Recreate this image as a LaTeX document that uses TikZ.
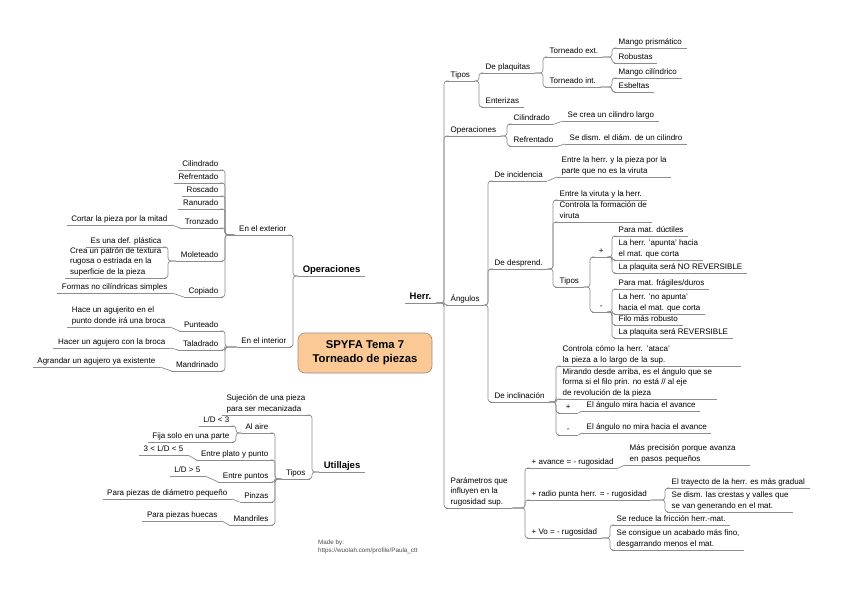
\documentclass[tikz,border=0pt]{standalone}
\usepackage{fontspec}
\setmainfont{Liberation Sans}
\usetikzlibrary{calc,backgrounds}
\definecolor{peach}{HTML}{FBC995}
\definecolor{peachline}{HTML}{9A8C80}
\definecolor{linec}{HTML}{8C8C8C}
\newcommand\tf{\fontsize{8}{10.8}\selectfont}
\newcommand\rconn[2]{\draw[conn] (#1.south east) -- ($(#1.south east -| #2.south west)+(-2pt,0)$) |- (#2.south west);}
\newcommand\lconn[2]{\draw[conn] (#1.south west) -- ($(#1.south west -| #2.south east)+(2pt,0)$) |- (#2.south east);}
\newcommand\rdir[2]{\draw[conn] (#1.south east) -- (#2.south west);}
\newcommand\ldir[2]{\draw[conn] (#1.south west) -- (#2.south east);}
\begin{document}
\begin{tikzpicture}[x=1pt,y=1pt,
  conn/.style={draw=linec, line width=0.7pt, rounded corners=3pt},
  uline/.style={draw=linec, line width=0.7pt},
  topic/.style={font=\tf, inner xsep=4.5pt, inner ysep=1.4pt, align=left,
    execute at end node={\vphantom{g}},
    append after command={(\tikzlastnode.south west) edge[uline] (\tikzlastnode.south east)}},
  R/.style={topic, anchor=south west},
  L/.style={topic, anchor=south east},
  main/.style={topic, font=\fontsize{9.5}{11}\selectfont\bfseries},
  central/.style={draw=peachline, fill=peach, rounded corners=7pt, minimum width=134pt,
    minimum height=40pt, font=\fontsize{11.3}{14}\selectfont\bfseries, align=center, line width=0.6pt}]
\useasboundingbox (0,0) rectangle (848,-599);
\fill[white] (0,0) rectangle (848,-599);

% central and main topics
\node[central] (c) at (365,-353) {SPYFA Tema 7\\Torneado de piezas};
\node[main, anchor=south east] (ops) at (365,-276) {Operaciones};
\node[main, anchor=south west] (herr) at (405,-303) {Herr.};
\node[main, anchor=south east] (uti) at (365,-472) {Utillajes};

\begin{pgfonlayer}{background}
\fill[black] ($(c.north)+(-8,-6)$) -- ($(c.north)+(-1,-6)$) -- (ops.south east) -- cycle;
\fill[black] ($(c.north)+(13,-6)$) -- ($(c.north)+(25,-6)$) -- (herr.south west) -- cycle;
\fill[black] ($(c.south)+(-9,6)$) -- ($(c.south)+(-2,6)$) -- (uti.south east) -- cycle;
\end{pgfonlayer}

% ---------- right side (Herr.) ----------
\node[R] (tipos) at (446,-81) {Tipos};
\node[R] (opsr) at (446,-136) {Operaciones};
\node[R] (ang) at (446,-305) {Ángulos};
\node[R] (par) at (446,-508) {Parámetros que\\influyen en la\\rugosidad sup.};

\node[R] (plaq) at (481,-73) {De plaquitas};
\node[R] (ente) at (481,-107) {Enterizas};
\node[R] (text) at (545,-57) {Torneado ext.};
\node[R] (tint) at (545,-87) {Torneado int.};
\node[R] (mpris) at (614,-48) {Mango prismático};
\node[R] (robu) at (614,-63) {Robustas};
\node[R] (mcil) at (614,-78) {Mango cilíndrico};
\node[R] (esbe) at (614,-92) {Esbeltas};

\node[R] (cilr) at (509,-124) {Cilindrado};
\node[R] (refr) at (509,-146) {Refrentado};
\node[R] (crea) at (563,-121) {Se crea un cilindro largo};
\node[R] (dism) at (565,-144) {Se dism. el diám. de un cilindro};

\node[R] (inci) at (490,-181) {De incidencia};
\node[R] (incid) at (557,-177) {Entre la herr. y la pieza por la\\parte que no es la viruta};
\node[R] (desp) at (490,-269) {De desprend.};
\node[R] (d1) at (555,-200) {Entre la viruta y la herr.};
\node[R] (d2) at (555,-222) {Controla la formación de\\viruta};
\node[R] (dtip) at (555,-287) {Tipos};
\node[R, minimum width=18pt] (dplus) at (592,-257) {+};
\node[R, minimum width=18pt] (dminus) at (592,-312) {-};
\node[R] (p1) at (614,-236) {Para mat. dúctiles};
\node[R] (p2) at (614,-260) {La herr. 'apunta' hacia\\el mat. que corta};
\node[R] (p3) at (614,-273) {La plaquita será NO REVERSIBLE};
\node[R] (m1) at (614,-289) {Para mat. frágiles/duros};
\node[R] (m2) at (614,-314) {La herr. 'no apunta'\\hacia el mat. que corta};
\node[R] (m3) at (614,-325) {Filo más robusto};
\node[R] (m4) at (614,-338) {La plaquita será REVERSIBLE};

\node[R] (incl) at (490,-402) {De inclinación};
\node[R, text width=174pt] (i1) at (558,-366) {Controla cómo la herr. 'ataca'\\la pieza a lo largo de la sup.};
\node[R] (i2) at (558,-399) {Mirando desde arriba, es el ángulo que se\\forma si el filo prin. no está // al eje\\de revolución de la pieza};
\node[R, minimum width=20pt] (iplus) at (558,-413) {+};
\node[R, minimum width=20pt] (iminus) at (558,-435) {-};
\node[R] (ip) at (582,-411) {El ángulo mira hacia el avance};
\node[R] (im) at (582,-433) {El ángulo no mira hacia el avance};

\node[R] (pa1) at (527,-468) {+ avance = - rugosidad};
\node[R] (pa2) at (527,-500) {+ radio punta herr. = - rugosidad};
\node[R] (pa3) at (527,-538) {+ Vo = - rugosidad};
\node[R, text width=116pt] (pa1a) at (625,-465) {Más precisión porque avanza\\en pasos pequeños};
\node[R] (pa2a) at (667,-488) {El trayecto de la herr. es más gradual};
\node[R] (pa2b) at (667,-512) {Se dism. las crestas y valles que\\se van generando en el mat.};
\node[R] (pa3a) at (612,-525) {Se reduce la fricción herr.-mat.};
\node[R] (pa3b) at (612,-550) {Se consigue un acabado más fino,\\desgarrando menos el mat.};

% ---------- left side (Operaciones) ----------
\node[L] (ext) at (291,-235) {En el exterior};
\node[L] (int) at (291,-347) {En el interior};
\node[L] (e1) at (223,-170) {Cilindrado};
\node[L] (e2) at (223,-183) {Refrentado};
\node[L] (e3) at (223,-196) {Roscado};
\node[L] (e4) at (223,-209) {Ranurado};
\node[L] (e5) at (223,-228) {Tronzado};
\node[L] (e6) at (223,-261) {Moleteado};
\node[L] (e7) at (223,-297) {Copiado};
\node[L] (e5a) at (172,-225) {Cortar la pieza por la mitad};
\node[L] (e6a) at (166,-247) {Es una def. plástica};
\node[L] (e6b) at (166,-278) {Crea un patrón de textura\\rugosa o estriada en la\\superficie de la pieza};
\node[L] (e7a) at (172,-293) {Formas no cilíndricas simples};
\node[L] (i1l) at (223,-331) {Punteado};
\node[L] (i2l) at (223,-350) {Taladrado};
\node[L] (i3l) at (223,-371) {Mandrinado};
\node[L] (i1a) at (170,-327) {Hace un agujerito en el\\punto donde irá una broca};
\node[L] (i2a) at (170,-348) {Hacer un agujero con la broca};
\node[L] (i3a) at (160,-367) {Agrandar un agujero ya existente};

% ---------- left side (Utillajes) ----------
\node[L] (suj) at (310,-415) {Sujeción de una pieza\\para ser mecanizada};
\node[L] (utip) at (310,-479) {Tipos};
\node[L] (u1) at (273,-433) {Al aire};
\node[L] (u2) at (273,-460) {Entre plato y punto};
\node[L] (u3) at (273,-482) {Entre puntos};
\node[L] (u4) at (273,-502) {Pinzas};
\node[L] (u5) at (273,-525) {Mandriles};
\node[L] (u1a) at (234,-426) {L/D < 3};
\node[L] (u1b) at (234,-442) {Fija solo en una parte};
\node[L] (u2a) at (188,-455) {3 < L/D < 5};
\node[L] (u3a) at (205,-476) {L/D > 5};
\node[L] (u4a) at (232,-499) {Para piezas de diámetro pequeño};
\node[L] (u5a) at (222,-521) {Para piezas huecas};

\node[font=\fontsize{6.3}{8}\selectfont, text=black!70, align=left, anchor=north west, inner sep=0pt] (made) at (318,-540) {Made by:\\https://wuolah.com/profile/Paula\_ctt};

% ---------- connectors ----------
\rconn{herr}{tipos}\rconn{herr}{opsr}\rconn{herr}{ang}\rconn{herr}{par}
\rconn{tipos}{plaq}\rconn{tipos}{ente}
\rconn{plaq}{text}\rconn{plaq}{tint}
\rconn{text}{mpris}\rconn{text}{robu}
\rconn{tint}{mcil}\rconn{tint}{esbe}
\rconn{opsr}{cilr}\rconn{opsr}{refr}
\rdir{cilr}{crea}\rdir{refr}{dism}
\rconn{ang}{inci}\rconn{ang}{desp}\rconn{ang}{incl}
\rdir{inci}{incid}
\rconn{desp}{d1}\rconn{desp}{d2}\rconn{desp}{dtip}
\rconn{dtip}{dplus}\rconn{dtip}{dminus}
\rconn{dplus}{p1}\rconn{dplus}{p2}\rconn{dplus}{p3}
\rconn{dminus}{m1}\rconn{dminus}{m2}\rconn{dminus}{m3}\rconn{dminus}{m4}
\rconn{incl}{i1}\rconn{incl}{i2}\rconn{incl}{iplus}\rconn{incl}{iminus}
\rdir{iplus}{ip}\rdir{iminus}{im}
\rconn{par}{pa1}\rconn{par}{pa2}\rconn{par}{pa3}
\rdir{pa1}{pa1a}
\rconn{pa2}{pa2a}\rconn{pa2}{pa2b}
\rconn{pa3}{pa3a}\rconn{pa3}{pa3b}

\lconn{ops}{ext}\lconn{ops}{int}
\lconn{ext}{e1}\lconn{ext}{e2}\lconn{ext}{e3}\lconn{ext}{e4}\lconn{ext}{e5}\lconn{ext}{e6}\lconn{ext}{e7}
\ldir{e5}{e5a}
\lconn{e6}{e6a}\lconn{e6}{e6b}
\ldir{e7}{e7a}
\lconn{int}{i1l}\lconn{int}{i2l}\lconn{int}{i3l}
\ldir{i1l}{i1a}\ldir{i2l}{i2a}\ldir{i3l}{i3a}
\lconn{uti}{suj}\lconn{uti}{utip}
\lconn{utip}{u1}\lconn{utip}{u2}\lconn{utip}{u3}\lconn{utip}{u4}\lconn{utip}{u5}
\lconn{u1}{u1a}\lconn{u1}{u1b}
\ldir{u2}{u2a}\ldir{u3}{u3a}\ldir{u4}{u4a}\ldir{u5}{u5a}
\end{tikzpicture}
\end{document}
